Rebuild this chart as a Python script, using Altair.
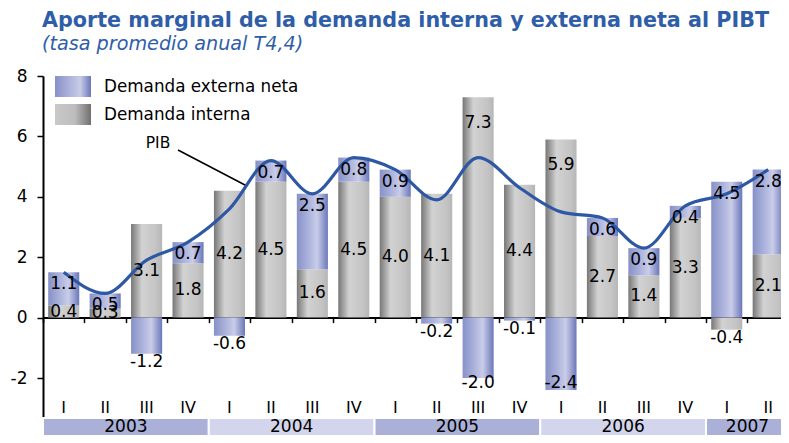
import altair as alt
import pandas as pd

# ---------------- data ----------------
quarters = ["I", "II", "III", "IV"] * 4 + ["I", "II"]
years = ["2003"] * 4 + ["2004"] * 4 + ["2005"] * 4 + ["2006"] * 4 + ["2007"] * 2
interna = [0.4, 0.3, 3.1, 1.8, 4.2, 4.5, 1.6, 4.5, 4.0, 4.1, 7.3, 4.4, 5.9, 2.7, 1.4, 3.3, -0.4, 2.1]
externa = [1.1, 0.5, -1.2, 0.7, -0.6, 0.7, 2.5, 0.8, 0.9, -0.2, -2.0, -0.1, -2.4, 0.6, 0.9, 0.4, 4.5, 2.8]
pib = [1.5, 0.8, 1.9, 2.5, 3.6, 5.2, 4.1, 5.3, 4.9, 3.9, 5.3, 4.3, 3.5, 3.3, 2.3, 3.7, 4.1, 4.9]
series_names = ["Demanda externa neta", "Demanda interna"]
year_list = ["2003", "2004", "2005", "2006", "2007"]
y_ticks = [-4, -2, 0, 2, 4, 6, 8]

title_text = "Aporte marginal de la demanda interna y externa neta al PIBT"
subtitle_text = "(tasa promedio anual T4,4)"

# ---------------- layout / style ----------------
FONT = "DejaVu Sans"
BLUE_T = "#2f5ea9"
LINE_BLUE = "#2f58a4"
STEP = 41.44          # px per quarter
UNIT = 30.2           # px per y unit
W, H = 738, 359
YMAX = 8
YMIN = YMAX - H / UNIT
n = len(quarters)
XMIN = -0.5
XMAX = XMIN + W / STEP

gray_grad = alt.Gradient(
    gradient="linear", x1=0, x2=1, y1=0, y2=0,
    stops=[alt.GradientStop(color="#777777", offset=0),
           alt.GradientStop(color="#d2d2d2", offset=0.35),
           alt.GradientStop(color="#c4c4c4", offset=0.8),
           alt.GradientStop(color="#b6b6b6", offset=1)])
blue_grad = alt.Gradient(
    gradient="linear", x1=0, x2=1, y1=0, y2=0,
    stops=[alt.GradientStop(color="#8791c8", offset=0),
           alt.GradientStop(color="#a9b0da", offset=0.35),
           alt.GradientStop(color="#c9cde9", offset=0.65),
           alt.GradientStop(color="#6b77b9", offset=1)])
leg_blue = alt.Gradient(
    gradient="linear", x1=0, x2=1, y1=0, y2=0,
    stops=[alt.GradientStop(color="#8790c8", offset=0),
           alt.GradientStop(color="#c8cce8", offset=0.7),
           alt.GradientStop(color="#6b77b9", offset=1)])
leg_gray = alt.Gradient(
    gradient="linear", x1=0, x2=1, y1=0, y2=0,
    stops=[alt.GradientStop(color="#c9c9c9", offset=0),
           alt.GradientStop(color="#bdbdbd", offset=0.55),
           alt.GradientStop(color="#707070", offset=1)])

idx = list(range(n))
rows = []
for i in idx:
    rows.append({"idx": i, "serie": "interna", "order": 0, "value": interna[i]})
    rows.append({"idx": i, "serie": "externa", "order": 1, "value": externa[i]})
long = pd.DataFrame(rows)

xscale = alt.Scale(domain=[XMIN, XMAX], nice=False, zero=False)
yscale = alt.Scale(domain=[YMIN, YMAX], nice=False, zero=False)

boundaries = [i - 0.5 for i in range(n + 1)]

base = (
    alt.Chart(long)
    .transform_stack(stack="value", groupby=["idx"], sort=[alt.SortField("order")],
                     as_=["v0", "v1"], offset="zero")
    .transform_calculate(xa="datum.idx - 0.375", xb="datum.idx + 0.375")
)

x_enc = alt.X("xa:Q", scale=xscale,
              axis=alt.Axis(values=boundaries, labels=False, title=None, grid=False,
                            tickSize=5, tickWidth=1.5, tickColor="black",
                            domainColor="black", domainWidth=2,
                            offset=-(H - YMAX * UNIT)))
y_enc = alt.Y("v0:Q", scale=yscale,
              axis=alt.Axis(values=y_ticks, title=None, grid=False, tickSize=6,
                            tickWidth=1.5, tickColor="black", domainColor="black",
                            domainWidth=2, labelFontSize=17, labelColor="black",
                            labelFont=FONT, labelPadding=10,
                            labelExpr="'' + datum.value"))

gray_bars = base.transform_filter("datum.serie == 'interna'").mark_rect(color=gray_grad).encode(
    x=x_enc, x2="xb:Q", y=y_enc, y2="v1:Q")
blue_bars = base.transform_filter("datum.serie == 'externa'").mark_rect(color=blue_grad).encode(
    x=alt.X("xa:Q", scale=xscale), x2="xb:Q", y=alt.Y("v0:Q", scale=yscale), y2="v1:Q")

lab = base.transform_calculate(
    pos="datum.value < 0 ? 'neg' : (datum.serie == 'externa' ? 'top' : (datum.value >= 5 ? 'top2' : 'mid'))",
    ly="datum.value < 0 ? max(min(datum.v0, datum.v1), -1.9) : (datum.serie == 'externa' || datum.value >= 5 ? max(datum.v0, datum.v1) : (datum.v0 + datum.v1) / 2)",
    txt="replace(format(datum.value, '.1f'), '\u2212', '-')",
)

def label_layer(pos, dy):
    return lab.transform_filter(f"datum.pos == '{pos}'").mark_text(
        font=FONT, fontSize=17, color="black", baseline="middle", dy=dy
    ).encode(
        x=alt.X("idx:Q", scale=xscale),
        y=alt.Y("ly:Q", scale=yscale),
        text="txt:N",
    )

labels = (label_layer("neg", 8) + label_layer("top", 12)
          + label_layer("top2", 26) + label_layer("mid", 0))

# PIB line
pib_df = pd.DataFrame({"idx": idx, "pib": pib})
pib_line = alt.Chart(pib_df).mark_line(color=LINE_BLUE, strokeWidth=3.2, interpolate="monotone").encode(
    x=alt.X("idx:Q", scale=xscale), y=alt.Y("pib:Q", scale=yscale))

# quarter labels and year bands
q_df = pd.DataFrame({"idx": idx, "q": quarters, "year": years})
q_labels = alt.Chart(q_df).mark_text(font=FONT, fontSize=16, color="black", baseline="middle").encode(
    x=alt.X("idx:Q", scale=xscale), y=alt.value(332), text="q:N")

year_base = alt.Chart(q_df).transform_aggregate(
    lo="min(idx)", hi="max(idx)", groupby=["year"]
).transform_calculate(xa="datum.lo - 0.5", xb="datum.hi + 0.5", xm="(datum.lo + datum.hi) / 2")
year_rects = year_base.mark_rect(stroke="white", strokeWidth=2).encode(
    x=alt.X("xa:Q", scale=xscale), x2="xb:Q",
    y=alt.value(342), y2=alt.value(361),
    color=alt.Color("year:N", scale=alt.Scale(domain=year_list,
                    range=["#aab0d8", "#d2d5eb", "#aab0d8", "#d2d5eb", "#aab0d8"]), legend=None))
year_labels = year_base.mark_text(font=FONT, fontSize=17, color="black", baseline="middle").encode(
    x=alt.X("xm:Q", scale=xscale), y=alt.value(351), text="year:N")

# legend (custom, gradient swatches)
leg1 = pd.DataFrame({"label": [series_names[0]]})
leg2 = pd.DataFrame({"label": [series_names[1]]})
sw1 = alt.Chart(leg1).mark_rect(color=leg_blue).encode(
    x=alt.value(12), x2=alt.value(48), y=alt.value(0), y2=alt.value(21))
sw2 = alt.Chart(leg2).mark_rect(color=leg_gray).encode(
    x=alt.value(12), x2=alt.value(48), y=alt.value(28), y2=alt.value(49))
lt1 = alt.Chart(leg1).mark_text(font=FONT, fontSize=16.8, color="black", align="left", baseline="middle").encode(
    x=alt.value(61), y=alt.value(11), text="label:N")
lt2 = alt.Chart(leg2).mark_text(font=FONT, fontSize=16.8, color="black", align="left", baseline="middle").encode(
    x=alt.value(61), y=alt.value(39), text="label:N")

# PIB annotation
ann = pd.DataFrame({"t": ["PIB"]})
ann_line = alt.Chart(ann).mark_rule(color="black", strokeWidth=1.5).encode(
    x=alt.value(135), x2=alt.value(202), y=alt.value(74), y2=alt.value(109))
ann_text = alt.Chart(ann).mark_text(font=FONT, fontSize=15.5, color="black", baseline="middle").encode(
    x=alt.value(115), y=alt.value(67), text="t:N")

chart = alt.layer(
    gray_bars, blue_bars, year_rects, year_labels, q_labels, pib_line, labels,
    sw1, sw2, lt1, lt2, ann_line, ann_text,
).properties(
    width=W, height=H,
    title=alt.TitleParams(
        text=title_text, subtitle=subtitle_text, anchor="start", frame="group",
        font=FONT, fontSize=20.7, fontWeight="bold", color=BLUE_T,
        subtitleFont=FONT, subtitleFontSize=19.2, subtitleFontStyle="italic",
        subtitleColor=BLUE_T, subtitlePadding=3, offset=12, dx=-1,
    ),
    autosize=alt.AutoSizeParams(type="none"),
    padding={"left": 35, "top": 68, "right": 0, "bottom": 0},
).configure_view(stroke=None)

chart.save("out.html", embed_options={"renderer": "svg", "actions": False})
